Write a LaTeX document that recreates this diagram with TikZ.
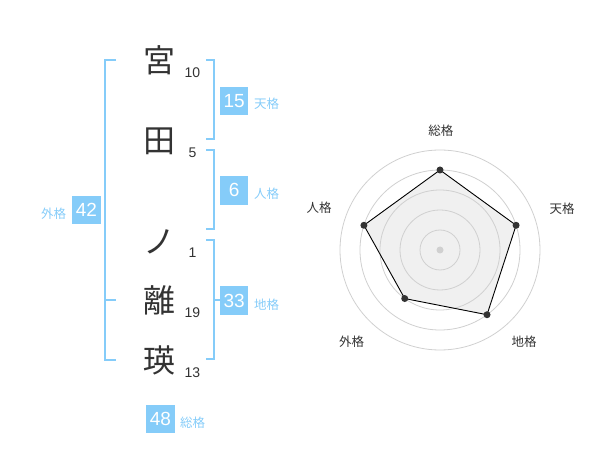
\documentclass[tikz,border=0pt]{standalone}
\usepackage{fontspec}
\setmainfont{Liberation Sans}
\newfontfamily\cjk{Noto Sans CJK JP}
\usepackage{xcolor}
\usepackage{tikz}
\definecolor{kakublue}{HTML}{85CCF9}
\definecolor{ink}{HTML}{333333}
\definecolor{ring}{HTML}{D0D0D0}
\definecolor{area}{HTML}{F0F0F0}

\begin{document}
\begin{tikzpicture}[x=1pt,y=-1pt,%
% common options for the name characters:
moji/.style = {text=ink, font=\cjk\fontsize{32}{32}\selectfont, inner sep=0, anchor=center},
% common options for the stroke counts:
count/.style = {text=ink, font=\fontsize{14}{14}\selectfont, inner sep=0, anchor=center},
% common options for blocks:
block/.style = {fill=kakublue, text=white, font=\fontsize{19}{19}\selectfont,
            minimum size=28.5pt, inner sep=0},
tag/.style = {text=kakublue, font=\cjk\fontsize{12.5}{12.5}\selectfont, inner sep=0, anchor=west},
brace/.style = {draw=kakublue, line width=2pt},
% common options for the chart:
axis/.style = {text=ink, font=\cjk\fontsize{12.5}{12.5}\selectfont, inner sep=0},
ball/.style = {circle, fill=ink, inner sep=0, minimum size=7pt}]
\useasboundingbox (0,0) rectangle (600,470);
\node[moji] (C1) at (159,60.0) {宮};
\node[moji] (C2) at (159,141.7) {田};
\node[moji] (C3) at (159,241.7) {ノ};
\node[moji] (C4) at (159,300.0) {離};
\node[moji] (C5) at (159,360.0) {瑛};
\node[count] (N1) at (192.5,72.7) {10};
\node[count] (N2) at (192.5,152.7) {5};
\node[count] (N3) at (192.5,252.7) {1};
\node[count] (N4) at (192.5,312.7) {19};
\node[count] (N5) at (192.5,372.7) {13};
% brackets
\coordinate (G0) at (116,60);  \coordinate (G1) at (105,60);
\coordinate (G2) at (105,360); \coordinate (G3) at (116,360);
\coordinate (G4) at (105,300); \coordinate (G5) at (116,300);
\coordinate (T0) at (206,60);  \coordinate (T1) at (214,60);
\coordinate (T2) at (214,139); \coordinate (T3) at (206,139);
\coordinate (J0) at (206,150); \coordinate (J1) at (214,150);
\coordinate (J2) at (214,229); \coordinate (J3) at (206,229);
\coordinate (D0) at (206,240); \coordinate (D1) at (214,240);
\coordinate (D2) at (214,359); \coordinate (D3) at (206,359);
\coordinate (D4) at (214,300); \coordinate (D5) at (221,300);
\draw[brace] (G0) -- (G1) -- (G2) -- (G3);
\draw[brace] (G4) -- (G5);
\draw[brace] (T0) -- (T1) -- (T2) -- (T3);
\draw[brace] (J0) -- (J1) -- (J2) -- (J3);
\draw[brace] (D0) -- (D1) -- (D2) -- (D3);
\draw[brace] (D4) -- (D5);
% blocks
\node[block] (K1) at (234.2,100.8) {15};
\node[block] (K2) at (234.2,190.3) {6};
\node[block] (K3) at (234.2,300.5) {33};
\node[block] (K4) at (86.4,210.2) {42};
\node[block] (K5) at (160.5,419.0) {48};
\node[tag] (L1) at (254,104.0) {天格};
\node[tag] (L2) at (254,194.0) {人格};
\node[tag] (L3) at (254,305.0) {地格};
\node[tag] (L4) at (41,213.3) {外格};
\node[tag] (L5) at (180,422.3) {総格};
% chart
\begin{scope}[shift={(440,250)}, yscale=-1]
\coordinate (O) at (0,0);
\coordinate (S1) at (90:80);
\coordinate (S2) at (18:80);
\coordinate (S3) at (-54:80);
\coordinate (S4) at (-126:60);
\coordinate (S5) at (162:80);
\fill[area] (S1) -- (S2) -- (S3) -- (S4) -- (S5) -- cycle;
\foreach \r in {20,40,...,100}
  \draw[ring, line width=0.8pt] (O) circle (\r);
\fill[ring] (O) circle (3.5);
\draw[black, line width=0.9pt] (S1) -- (S2) -- (S3) -- (S4) -- (S5) -- cycle;
\node[ball] (P1) at (S1) {};
\node[ball] (P2) at (S2) {};
\node[ball] (P3) at (S3) {};
\node[ball] (P4) at (S4) {};
\node[ball] (P5) at (S5) {};
\end{scope}
\node[axis] (A1) at (440.8,130.5) {総格};
\node[axis] (A2) at (562,208.7) {天格};
\node[axis] (A3) at (524,341.7) {地格};
\node[axis] (A4) at (351.7,341.7) {外格};
\node[axis] (A5) at (319.2,208) {人格};
\end{tikzpicture}
\end{document}
